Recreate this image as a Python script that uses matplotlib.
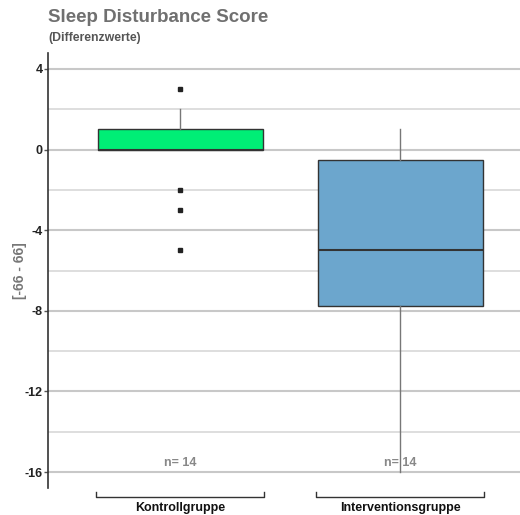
import matplotlib
matplotlib.use("Agg")
import matplotlib.pyplot as plt

plt.rcParams['font.family'] = ['Liberation Sans', 'DejaVu Sans']

groups = ["Kontrollgruppe", "Interventionsgruppe"]
n_counts = [14, 14]
q1 = [0, -7.75]
med = [0, -5]
q3 = [1, -0.5]
whislo = [0, -16]
whishi = [2, 1]
fliers = [[3, -2, -3, -5], []]
colors = ["#00EE76", "#6CA6CD"]
yticks = [4, 0, -4, -8, -12, -16]
minor_ticks = [2, -2, -6, -10, -14]

fig = plt.figure(figsize=(5.2, 5.15), dpi=100)
ax = fig.add_axes([48/520, (515-488)/515, 1 - 48/520, (488-53)/515])

stats = []
for i, g in enumerate(groups):
    stats.append(dict(label=g, med=med[i], q1=q1[i], q3=q3[i],
                      whislo=whislo[i], whishi=whishi[i], fliers=fliers[i]))

pos = [1, 2]
bp = ax.bxp(stats, positions=pos, widths=0.75, patch_artist=True, showcaps=False,
            boxprops=dict(edgecolor="#333333", linewidth=1.0),
            medianprops=dict(color="#333333", linewidth=1.5),
            whiskerprops=dict(color="#777777", linewidth=1.0),
            flierprops=dict(marker="s", markersize=2.6, markerfacecolor="#222222",
                            markeredgecolor="#222222"),
            zorder=3)
for patch, c in zip(bp['boxes'], colors):
    patch.set_facecolor(c)
for w in bp['whiskers']:
    w.set_zorder(4)

ax.set_xlim(0.4, 2.545)
ax.set_ylim(-16.79, 4.79)
ax.set_yticks(yticks)
ax.set_yticks(minor_ticks, minor=True)
ax.set_yticklabels([str(t) for t in yticks], fontweight="bold", fontsize=9, color="#222222")
ax.tick_params(axis='y', which='major', length=3, width=1, color="#555555", pad=1)
ax.tick_params(axis='y', which='minor', length=0)
ax.set_xticks([])
ax.grid(True, axis='y', which='major', color="#c8c8c8", linewidth=1.5, zorder=0)
ax.grid(True, axis='y', which='minor', color="#d8d8d8", linewidth=1.2, zorder=0)
ax.set_axisbelow(True)
for s in ['top', 'right', 'bottom']:
    ax.spines[s].set_visible(False)
ax.spines['left'].set_color("#333333")
ax.spines['left'].set_linewidth(1.2)

for i, p in enumerate(pos):
    ax.text(p, -15.55, f"n= {n_counts[i]}", ha="center", va="center", fontsize=9,
            fontweight="bold", color="#888888", zorder=2)
    x0, x1 = p - 0.382, p + 0.382
    ax.plot([x0, x0, x1, x1], [-17.0, -17.24, -17.24, -17.0], color="#333333",
            linewidth=1.0, clip_on=False)
    ax.text(p, -17.8, groups[i], ha="center", va="center", fontsize=9,
            fontweight="bold", color="#111111", clip_on=False)

ax.set_ylabel("[-66 - 66]", fontsize=10, fontweight="bold", color="#777777")
ax.yaxis.set_label_coords(-21/472, 0.5)

fig.text(48/520, 1 - 18/515, "Sleep Disturbance Score", fontsize=13.5, fontweight="bold",
         color="#707070", ha="left", va="center")
fig.text(48/520, 1 - 38/515, "(Differenzwerte)", fontsize=8.8, fontweight="bold",
         color="#555555", ha="left", va="center")

fig.savefig("out.png", dpi=100)
